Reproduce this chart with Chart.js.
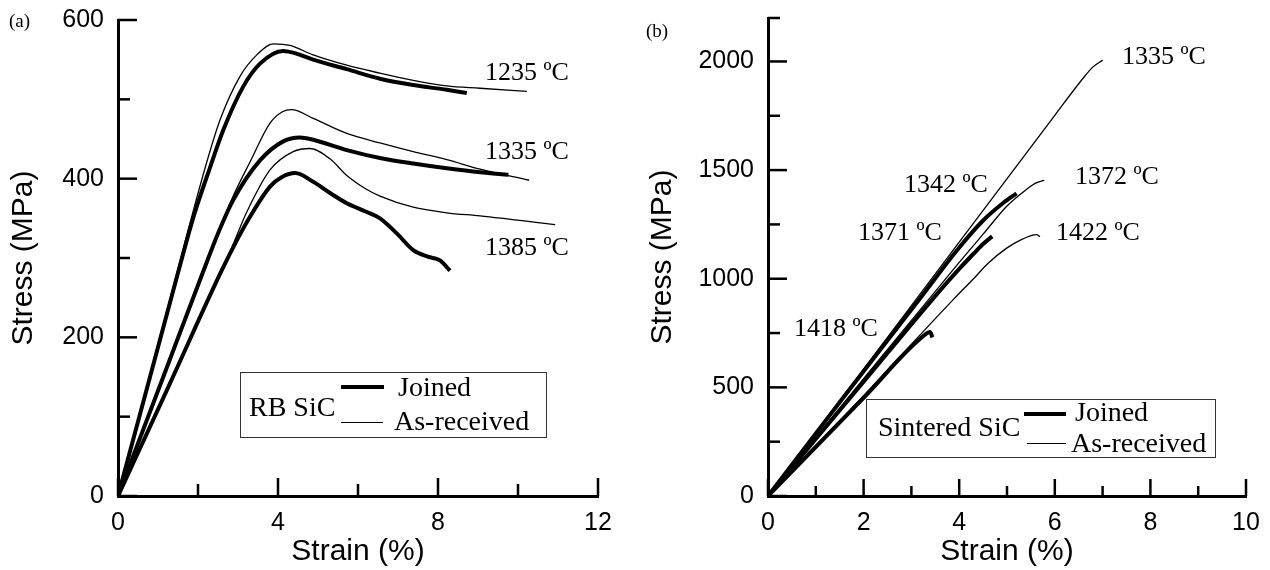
<!DOCTYPE html>
<html lang="en">
<head>
  <meta charset="UTF-8">
  <title>Stress-strain curves, RB SiC and sintered SiC</title>
  <script src="https://cdn.jsdelivr.net/npm/chart.js"></script>
  <style>
    body { margin: 0; background: #fff; }
    #wrap { position: relative; width: 1270px; height: 570px; overflow: hidden; }
    canvas { position: absolute; top: 0; }
    .note { position: absolute; font-family: "Liberation Serif", "Times New Roman", serif; line-height: 1; white-space: nowrap; color: #000; }
    .box { position: absolute; border: 1px solid #333; box-sizing: border-box; }
    .key { position: absolute; background: #000; }
  </style>
</head>
<body>
<div id="wrap">
  <canvas id="chartA" width="635" height="570" style="left:0"></canvas>
  <canvas id="chartB" width="635" height="570" style="left:635px"></canvas>

  <div class="note" style="left:9px;top:11px;font-size:19px">(a)</div>
  <div class="note" style="left:646px;top:21px;font-size:19px">(b)</div>

  <!-- temperature labels, panel a -->
  <div class="note" style="left:485px;top:59px;font-size:26px">1235 ºC</div>
  <div class="note" style="left:485px;top:138px;font-size:26px">1335 ºC</div>
  <div class="note" style="left:485px;top:234px;font-size:26px">1385 ºC</div>

  <!-- temperature labels, panel b -->
  <div class="note" style="left:1122px;top:43px;font-size:26px">1335 ºC</div>
  <div class="note" style="left:904px;top:171px;font-size:26px">1342 ºC</div>
  <div class="note" style="left:1075px;top:163px;font-size:26px">1372 ºC</div>
  <div class="note" style="left:858px;top:219px;font-size:26px">1371 ºC</div>
  <div class="note" style="left:1056px;top:219px;font-size:26px">1422 ºC</div>
  <div class="note" style="left:794px;top:315px;font-size:26px">1418 ºC</div>

  <!-- legend a -->
  <div class="box" style="left:240px;top:372px;width:307px;height:66px"></div>
  <div class="note" style="left:249px;top:393px;font-size:28px">RB SiC</div>
  <div class="key" style="left:341px;top:385px;width:43px;height:4px"></div>
  <div class="note" style="left:398px;top:373px;font-size:28px">Joined</div>
  <div class="key" style="left:341px;top:422px;width:42px;height:1px"></div>
  <div class="note" style="left:394px;top:407px;font-size:28px">As-received</div>

  <!-- legend b -->
  <div class="box" style="left:866px;top:399px;width:350px;height:59px"></div>
  <div class="note" style="left:878px;top:413px;font-size:28px">Sintered SiC</div>
  <div class="key" style="left:1024px;top:412px;width:42px;height:4px"></div>
  <div class="note" style="left:1075px;top:398px;font-size:28px">Joined</div>
  <div class="key" style="left:1027px;top:443px;width:39px;height:1px"></div>
  <div class="note" style="left:1071px;top:429px;font-size:28px">As-received</div>
</div>

<script>
  // ---- panel (a): RB SiC ----
  const rb1235JoinedStrain = [0, 0.8, 1.6, 1.9, 2.3, 2.63, 3.13, 3.55, 4.13, 4.5, 4.88, 5.72, 6.55, 7.38, 8.22, 8.72];
  const rb1235JoinedStress = [0, 150, 300, 354, 414, 461, 516, 545, 561, 557, 550, 538, 526, 518, 512, 508];
  const rb1235AsRecStrain = [0, 0.8, 1.55, 1.8, 2.22, 2.55, 3.05, 3.47, 3.88, 4.3, 4.88, 5.72, 6.55, 7.38, 8.22, 9.05, 10.22];
  const rb1235AsRecStress = [0, 153, 296, 344, 421, 474, 529, 556, 570, 568, 556, 543, 533, 524, 517, 514, 510];

  const rb1335JoinedStrain = [0, 1.1, 2.13, 2.5, 2.88, 3.55, 4.13, 4.55, 4.88, 5.72, 6.55, 7.38, 8.22, 9.05, 9.76];
  const rb1335JoinedStress = [0, 146, 283, 331, 373, 423, 447, 452, 449, 436, 426, 419, 413, 408, 405];
  const rb1335AsRecStrain = [0, 1.1, 2.13, 2.5, 2.88, 3.3, 3.8, 4.1, 4.34, 4.88, 5.72, 6.55, 7.38, 8.22, 9.05, 10.28];
  const rb1335AsRecStress = [0, 146, 283, 332, 378, 421, 470, 484, 487, 476, 457, 445, 434, 424, 412, 398];

  const rb1385JoinedStrain = [0, 1.3, 2.59, 3.0, 3.3, 3.8, 4.1, 4.43, 4.88, 5.3, 5.72, 6.22, 6.55, 6.97, 7.38, 7.72, 8.05, 8.3];
  const rb1385JoinedStress = [0, 142, 284, 325, 352, 390, 402, 407, 396, 382, 369, 358, 350, 331, 310, 302, 297, 284];
  const rb1385AsRecStrain = [0, 1.3, 2.59, 2.9, 3.22, 3.8, 4.38, 4.8, 5.3, 5.72, 6.2, 6.55, 7.38, 8.22, 9.05, 10.93];
  const rb1385AsRecStress = [0, 142, 284, 320, 358, 411, 434, 438, 425, 404, 387, 378, 364, 357, 353, 342];

  const rbStrainTicks = [0, 2, 4, 6, 8, 10, 12];
  const rbStrainLabels = [0, 4, 8, 12];
  const rbStressTicks = [0, 100, 200, 300, 400, 500, 600];
  const rbStressLabels = [0, 200, 400, 600];

  // ---- panel (b): sintered SiC ----
  const ss1335AsRecStrain = [0, 2, 4, 6, 6.6, 6.8, 7.0];
  const ss1335AsRecStress = [0, 584, 1168, 1752, 1925, 1975, 2006];
  const ss1342JoinedStrain = [0, 1.6, 3.2, 3.95, 4.5, 4.9, 5.2];
  const ss1342JoinedStress = [0, 460, 915, 1130, 1268, 1345, 1393];
  const ss1372AsRecStrain = [0, 2.0, 4.0, 4.5, 5.0, 5.4, 5.6, 5.78];
  const ss1372AsRecStress = [0, 540, 1075, 1205, 1335, 1410, 1440, 1453];
  const ss1371JoinedStrain = [0, 2.0, 3.44, 4.0, 4.3, 4.5, 4.69];
  const ss1371JoinedStress = [0, 526, 905, 1045, 1115, 1160, 1195];
  const ss1422AsRecStrain = [0, 2.0, 3.88, 4.3, 4.6, 5.0, 5.3, 5.52, 5.62, 5.69];
  const ss1422AsRecStress = [0, 462, 905, 1000, 1070, 1142, 1180, 1200, 1203, 1193];
  const ss1418JoinedStrain = [0, 2.0, 3.32, 3.39, 3.44];
  const ss1418JoinedStress = [0, 452, 748, 755, 730];

  const ssStrainTicks = [0, 1, 2, 3, 4, 5, 6, 7, 8, 9, 10];
  const ssStrainLabels = [0, 2, 4, 6, 8, 10];
  const ssStressTicks = [0, 250, 500, 750, 1000, 1250, 1500, 1750, 2000, 2200];
  const ssStressLabels = [0, 500, 1000, 1500, 2000];

  const THICK = 4, THIN = 1.3;

  function curve(xs, ys, width) {
    return {
      data: xs.map((v, i) => ({ x: v, y: ys[i] })),
      borderColor: '#000',
      borderWidth: width,
      pointRadius: 0,
      showLine: true,
      fill: false,
      cubicInterpolationMode: 'monotone'
    };
  }

  // inward tick marks, long on labelled values, short in between
  const inwardTicks = {
    id: 'inwardTicks',
    afterDraw(chart, args, opts) {
      const { ctx, chartArea, scales: { x, y } } = chart;
      ctx.save();
      ctx.strokeStyle = '#000';
      ctx.lineWidth = 2.5;
      x.ticks.forEach(t => {
        const px = x.getPixelForValue(t.value);
        const len = opts.xMajor.includes(t.value) ? opts.xLong : opts.xShort;
        ctx.beginPath();
        ctx.moveTo(px, chartArea.bottom);
        ctx.lineTo(px, chartArea.bottom - len);
        ctx.stroke();
      });
      y.ticks.forEach(t => {
        const py = y.getPixelForValue(t.value);
        const len = opts.yMajor.includes(t.value) ? opts.yLong : opts.yShort;
        ctx.beginPath();
        ctx.moveTo(chartArea.left, py);
        ctx.lineTo(chartArea.left + len, py);
        ctx.stroke();
      });
      ctx.restore();
    }
  };

  const tickFont = { family: '"Liberation Sans", Arial, sans-serif', size: 25 };
  const titleFont = { family: '"Liberation Sans", Arial, sans-serif', size: 30 };

  function makeOptions(cfg) {
    return {
      responsive: false,
      animation: false,
      layout: { padding: { top: cfg.top, right: cfg.right, left: 0, bottom: 0 } },
      plugins: {
        legend: { display: false },
        tooltip: { enabled: false },
        inwardTicks: { xMajor: cfg.xLabels, yMajor: cfg.yLabels, ...cfg.len }
      },
      scales: {
        x: {
          type: 'linear',
          min: 0, max: cfg.xTicks[cfg.xTicks.length - 1],
          grid: { display: false, drawTicks: false, tickLength: 0 },
          border: { display: true, color: '#000', width: 3 },
          afterBuildTicks: s => { s.ticks = cfg.xTicks.map(v => ({ value: v })); },
          ticks: {
            autoSkip: false, maxRotation: 0,
            padding: 12, color: '#000', font: tickFont,
            callback: v => (cfg.xLabels.includes(v) ? String(v) : '')
          },
          title: { display: true, text: 'Strain (%)', color: '#000', font: titleFont, padding: { top: 0, bottom: 0 } },
          afterFit: s => { s.height = 74; s.paddingLeft = 0; s.paddingRight = 0; }
        },
        y: {
          type: 'linear',
          min: 0, max: cfg.yTicks[cfg.yTicks.length - 1],
          grid: { display: false, drawTicks: false, tickLength: 0 },
          border: { display: true, color: '#000', width: 3 },
          afterBuildTicks: s => { s.ticks = cfg.yTicks.map(v => ({ value: v })); },
          ticks: {
            autoSkip: false,
            padding: 14, color: '#000', font: tickFont,
            callback: v => (cfg.yLabels.includes(v) ? String(v) : '')
          },
          title: { display: true, text: 'Stress (MPa)', color: '#000', font: titleFont, padding: { top: cfg.titlePad, bottom: 0 } },
          afterFit: s => { s.width = cfg.yWidth; s.paddingTop = 0; s.paddingBottom = 0; }
        }
      }
    };
  }

  new Chart(document.getElementById('chartA'), {
    type: 'scatter',
    data: {
      datasets: [
        curve(rb1235AsRecStrain, rb1235AsRecStress, THIN),
        curve(rb1335AsRecStrain, rb1335AsRecStress, THIN),
        curve(rb1385AsRecStrain, rb1385AsRecStress, THIN),
        curve(rb1235JoinedStrain, rb1235JoinedStress, THICK),
        curve(rb1335JoinedStrain, rb1335JoinedStress, THICK),
        curve(rb1385JoinedStrain, rb1385JoinedStress, THICK)
      ]
    },
    options: makeOptions({
      top: 20, right: 37, yWidth: 118, titlePad: 6,
      xTicks: rbStrainTicks, xLabels: rbStrainLabels,
      yTicks: rbStressTicks, yLabels: rbStressLabels,
      len: { xLong: 18, xShort: 12, yLong: 19, yShort: 12 }
    }),
    plugins: [inwardTicks]
  });

  new Chart(document.getElementById('chartB'), {
    type: 'scatter',
    data: {
      datasets: [
        curve(ss1335AsRecStrain, ss1335AsRecStress, THIN),
        curve(ss1372AsRecStrain, ss1372AsRecStress, THIN),
        curve(ss1422AsRecStrain, ss1422AsRecStress, THIN),
        curve(ss1342JoinedStrain, ss1342JoinedStress, THICK),
        curve(ss1371JoinedStrain, ss1371JoinedStress, THICK),
        curve(ss1418JoinedStrain, ss1418JoinedStress, THICK)
      ]
    },
    options: makeOptions({
      top: 18, right: 24, yWidth: 133, titlePad: 10,
      xTicks: ssStrainTicks, xLabels: ssStrainLabels,
      yTicks: ssStressTicks, yLabels: ssStressLabels,
      len: { xLong: 17, xShort: 10, yLong: 19, yShort: 12 }
    }),
    plugins: [inwardTicks]
  });
</script>
</body>
</html>
